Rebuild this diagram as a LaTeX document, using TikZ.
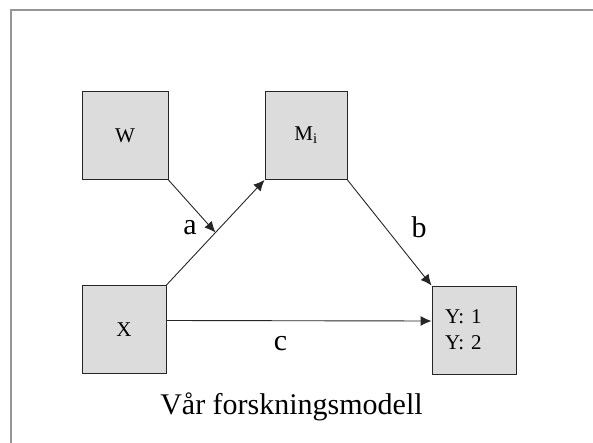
\documentclass[tikz,border=0pt]{standalone}
\usepackage{fontspec}
\setmainfont{Liberation Serif}
\usepackage{tikz}
\usetikzlibrary{arrows.meta, calc}
\definecolor{boxgray}{RGB}{220,220,220}
\definecolor{framegray}{RGB}{150,150,150}

\begin{document}
\begin{tikzpicture}[x=1pt, y=-1pt]
        \tikzstyle{var}=[draw=black!85, fill=boxgray, line width=0.9pt, minimum width=84pt, minimum height=88pt, font=\fontsize{21}{26}\selectfont]
        \tikzstyle{lbl}=[font=\fontsize{30}{32}\selectfont, inner sep=0pt]
        \tikzstyle{arr}=[-{Latex[length=11pt, width=10pt]}, line width=0.9pt, black!85]

        \useasboundingbox (0,0) rectangle (593,443);
        \draw[framegray, line width=1.5pt] (11,443) -- (11,10) -- (593,10);

        \node   (W)    [var, minimum width=86pt] at (125,135.5) {W};
        \node   (M)    [var, minimum width=82pt] at (306,135.5) {M\textsubscript{i}};
        \node   (X)    [var] at (124,329.5) {X};
        \node   (Y)    [var, inner xsep=13pt, text width=58pt, align=left] at (474,330) {Y: 1\\Y: 2};

        \coordinate (mid) at ($(X.north east)!0.5!(M.south west)$);

        \draw[arr] (X.north east) -- (M.south west);
        \draw[arr] (W.south east) -- (mid);
        \draw[arr] (M.south east) -- (Y.north west);
        \draw[arr] ([yshift=9pt]X.east) -- ([yshift=9pt]Y.west);

        \node   (a)    [lbl] at (190,228) {a};
        \node   (b)    [lbl] at (419,227) {b};
        \node   (c)    [lbl] at (280.5,344) {c};
        \node   (title) [font=\fontsize{30}{32}\selectfont] at (291.5,407) {Vår forskningsmodell};

    \end{tikzpicture}
\end{document}
